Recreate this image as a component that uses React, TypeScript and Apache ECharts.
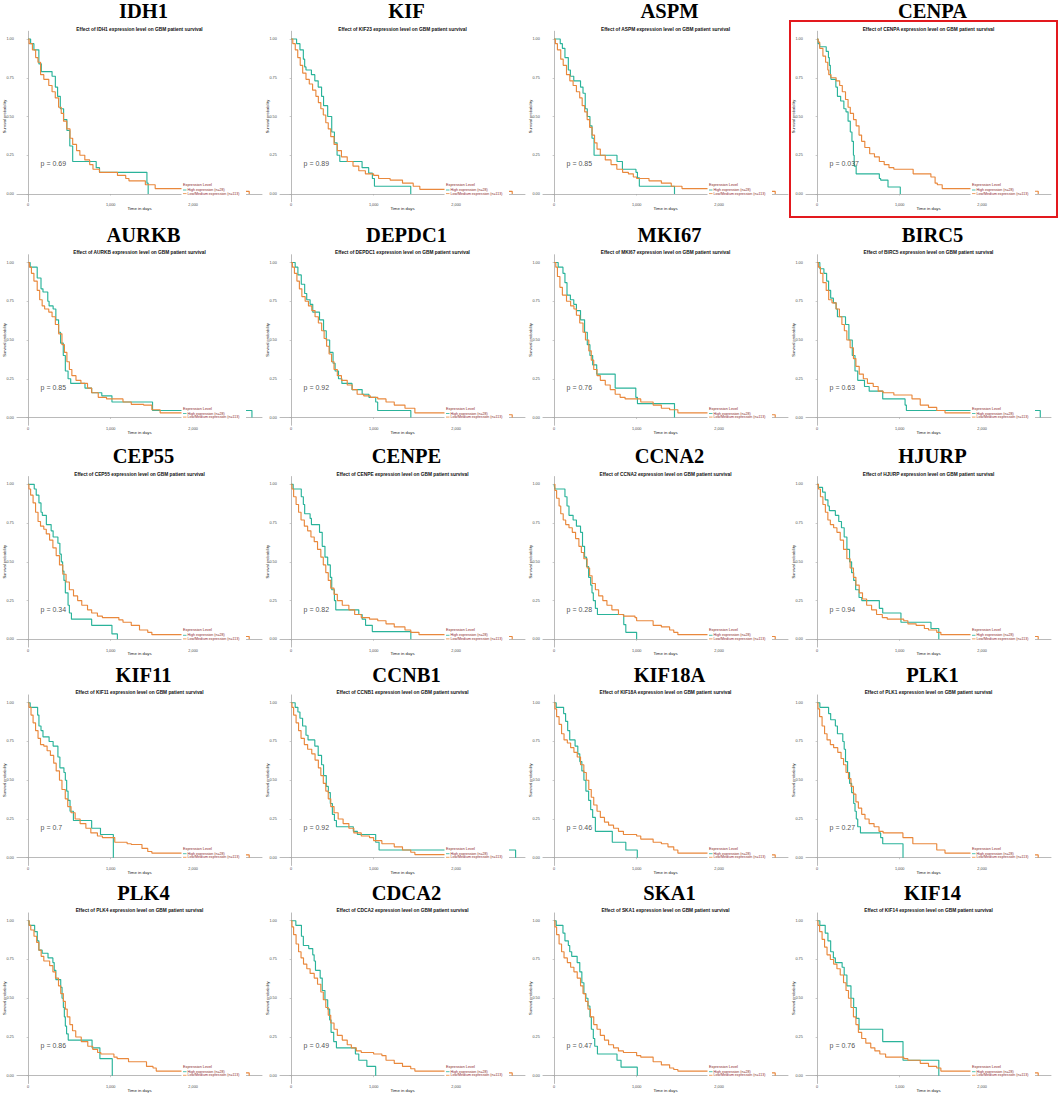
import React, { useEffect, useRef } from "react";
import * as echarts from "echarts";

// ---------- labels ----------
const genes = ["IDH1", "KIF", "ASPM", "CENPA", "AURKB", "DEPDC1", "MKI67", "BIRC5", "CEP55", "CENPE", "CCNA2", "HJURP", "KIF11", "CCNB1", "KIF18A", "PLK1", "PLK4", "CDCA2", "SKA1", "KIF14"];
const subtitleGenes = ["IDH1", "KIF23", "ASPM", "CENPA", "AURKB", "DEPDC1", "MKI67", "BIRC5", "CEP55", "CENPE", "CCNA2", "HJURP", "KIF11", "CCNB1", "KIF18A", "PLK1", "PLK4", "CDCA2", "SKA1", "KIF14"];
const pValues = ["0.69", "0.89", "0.85", "0.037", "0.85", "0.92", "0.76", "0.63", "0.34", "0.82", "0.28", "0.94", "0.7", "0.92", "0.46", "0.27", "0.86", "0.49", "0.47", "0.76"];
const legendLabels = ["Expression Level", "High expression (n=28)", "Low/Medium expression (n=113)"];
const xTicks = [0, 1000, 2000];
const yTicks = [0, 0.25, 0.5, 0.75, 1];
const highlighted = "CENPA";

// ---------- survival curves: [day, survival] ----------
const IDH1_high = [[0,1],[30,0.97],[70,0.93],[130,0.84],[160,0.79],[290,0.76],[330,0.69],[357,0.63],[390,0.55],[430,0.48],[470,0.41],[505,0.31],[540,0.21],[825,0.17],[865,0.14],[1440,0.07],[1455,0]];
const IDH1_low = [[0,1],[12,0.97],[52,0.93],[91,0.88],[119,0.85],[151,0.77],[190,0.74],[250,0.70],[290,0.66],[329,0.62],[369,0.56],[401,0.52],[429,0.47],[468,0.42],[508,0.36],[540,0.32],[587,0.28],[627,0.25],[687,0.22],[746,0.19],[786,0.16],[865,0.14],[1083,0.12],[1183,0.10],[1222,0.085],[1421,0.06],[1540,0.035],[2590,0.017],[2680,0]];

const KIF23_high = [[0,1],[66,0.97],[107,0.93],[148,0.87],[164,0.82],[180,0.80],[246,0.77],[287,0.73],[328,0.69],[369,0.63],[393,0.57],[443,0.50],[492,0.40],[525,0.33],[557,0.25],[590,0.21],[860,0.17],[940,0.135],[985,0.10],[1010,0.05],[1450,0]];
const KIF23_low = [[0,1],[20,0.97],[50,0.93],[80,0.88],[110,0.83],[140,0.78],[180,0.74],[220,0.71],[260,0.67],[300,0.63],[330,0.59],[360,0.55],[390,0.51],[420,0.46],[450,0.42],[480,0.37],[520,0.32],[560,0.28],[610,0.24],[680,0.21],[750,0.18],[820,0.15],[900,0.13],[1000,0.12],[1060,0.10],[1200,0.09],[1350,0.07],[1480,0.05],[1560,0.03],[2590,0.017],[2680,0]];

const ASPM_high = [[0,1],[74,0.97],[100,0.94],[131,0.88],[172,0.80],[197,0.76],[238,0.73],[320,0.69],[350,0.65],[377,0.55],[402,0.50],[434,0.44],[459,0.36],[484,0.25],[762,0.21],[828,0.16],[992,0.14],[1010,0.105],[1033,0.05],[1459,0]];
const ASPM_low = [[0,1],[15,0.97],[40,0.93],[80,0.87],[110,0.83],[150,0.77],[190,0.73],[230,0.70],[270,0.66],[310,0.62],[340,0.57],[370,0.53],[400,0.48],[430,0.43],[460,0.38],[490,0.33],[520,0.29],[560,0.25],[620,0.22],[690,0.19],[760,0.16],[830,0.14],[900,0.13],[960,0.11],[1000,0.10],[1150,0.085],[1300,0.07],[1420,0.05],[1550,0.035],[2590,0.017],[2680,0]];

const CENPA_high = [[0,1],[12,0.97],[31,0.95],[110,0.92],[137,0.88],[148,0.83],[160,0.78],[168,0.74],[227,0.69],[246,0.63],[285,0.60],[324,0.55],[350,0.53],[375,0.47],[402,0.40],[422,0.34],[440,0.25],[449,0.18],[473,0.13],[754,0.10],[770,0.09],[859,0.045],[1008,0]];
const CENPA_low = [[0,1],[12,0.98],[31,0.94],[70,0.89],[102,0.85],[129,0.80],[141,0.77],[168,0.75],[230,0.73],[273,0.70],[305,0.66],[344,0.61],[375,0.56],[402,0.52],[441,0.48],[473,0.44],[508,0.38],[539,0.34],[578,0.30],[637,0.26],[695,0.24],[754,0.21],[813,0.19],[871,0.17],[930,0.16],[1164,0.13],[1379,0.11],[1430,0.07],[1457,0.06],[1516,0.035],[2590,0.018],[2680,0]];

const AURKB_high = [[0,1],[25,0.97],[110,0.90],[156,0.83],[180,0.81],[238,0.75],[254,0.72],[303,0.70],[336,0.63],[369,0.55],[393,0.48],[426,0.40],[451,0.30],[484,0.25],[516,0.22],[689,0.19],[770,0.16],[893,0.14],[1016,0.10],[1508,0.045],[2713,0]];
const AURKB_low = [[0,1],[15,0.97],[40,0.93],[70,0.88],[110,0.82],[140,0.76],[170,0.72],[200,0.70],[250,0.68],[290,0.65],[330,0.60],[370,0.54],[410,0.47],[440,0.42],[470,0.36],[500,0.31],[530,0.27],[580,0.24],[640,0.22],[720,0.19],[770,0.16],[850,0.13],[950,0.12],[1150,0.10],[1250,0.085],[1400,0.08],[1500,0.05],[1600,0.03],[2000,0.03]];

const DEPDC1_high = [[0,1],[49,0.97],[82,0.92],[123,0.86],[164,0.80],[189,0.76],[230,0.73],[262,0.68],[344,0.63],[393,0.56],[426,0.50],[467,0.42],[508,0.35],[533,0.30],[574,0.25],[615,0.22],[738,0.18],[861,0.15],[943,0.13],[1025,0.10],[1049,0.045],[1451,0]];
const DEPDC1_low = [[0,1],[15,0.97],[40,0.93],[70,0.88],[100,0.83],[130,0.78],[170,0.75],[210,0.72],[250,0.69],[290,0.65],[330,0.61],[370,0.56],[400,0.51],[430,0.46],[460,0.41],[490,0.36],[520,0.31],[560,0.27],[610,0.24],[680,0.21],[740,0.18],[800,0.15],[880,0.14],[960,0.13],[1050,0.12],[1150,0.10],[1250,0.08],[1380,0.06],[1500,0.03],[2590,0.018],[2680,0]];

const MKI67_high = [[0,1],[49,0.97],[107,0.93],[131,0.87],[156,0.79],[197,0.76],[238,0.73],[270,0.69],[320,0.63],[369,0.55],[402,0.47],[434,0.40],[467,0.34],[516,0.28],[740,0.19],[990,0.13],[1010,0.09],[1459,0]];
const MKI67_low = [[0,1],[20,0.97],[40,0.91],[70,0.84],[100,0.79],[150,0.75],[200,0.72],[240,0.70],[270,0.66],[310,0.61],[350,0.55],[380,0.50],[420,0.43],[450,0.37],[480,0.31],[520,0.27],[560,0.24],[620,0.21],[680,0.18],[740,0.15],[800,0.13],[860,0.12],[1050,0.10],[1200,0.08],[1300,0.06],[1400,0.05],[1500,0.03],[2590,0.018],[2680,0]];

const BIRC5_high = [[0,1],[33,0.96],[82,0.93],[115,0.88],[139,0.82],[164,0.77],[197,0.74],[230,0.70],[246,0.65],[344,0.60],[385,0.50],[426,0.40],[459,0.30],[492,0.24],[574,0.20],[631,0.17],[795,0.12],[1066,0.08],[1082,0.045],[2705,0]];
const BIRC5_low = [[0,1],[15,0.97],[40,0.93],[70,0.87],[110,0.82],[140,0.76],[180,0.74],[230,0.70],[270,0.65],[300,0.60],[330,0.56],[360,0.50],[400,0.45],[440,0.38],[470,0.33],[510,0.28],[560,0.25],[610,0.22],[680,0.20],[740,0.17],[800,0.16],[930,0.145],[1150,0.12],[1250,0.08],[1350,0.065],[1450,0.045],[1550,0.03],[2000,0.03]];

const CEP55_high = [[0,1],[74,0.97],[98,0.93],[131,0.88],[156,0.82],[172,0.80],[221,0.74],[279,0.70],[303,0.66],[361,0.62],[385,0.55],[402,0.50],[418,0.44],[434,0.38],[451,0.30],[484,0.22],[500,0.17],[525,0.13],[770,0.09],[1016,0.035],[1082,0]];
const CEP55_low = [[0,1],[10,0.97],[30,0.93],[60,0.88],[90,0.82],[120,0.76],[150,0.73],[190,0.71],[220,0.68],[260,0.64],[300,0.59],[340,0.54],[380,0.48],[420,0.42],[460,0.37],[500,0.32],[550,0.28],[600,0.25],[650,0.22],[720,0.19],[770,0.17],[840,0.15],[900,0.14],[1100,0.125],[1150,0.11],[1250,0.09],[1350,0.06],[1450,0.045],[1500,0.03],[2590,0.018],[2680,0]];

const CENPE_high = [[0,1],[25,0.97],[123,0.92],[148,0.87],[164,0.81],[230,0.78],[246,0.74],[344,0.69],[377,0.60],[410,0.53],[443,0.48],[475,0.40],[492,0.32],[525,0.25],[541,0.19],[820,0.16],[861,0.13],[902,0.09],[984,0.05],[1451,0]];
const CENPE_low = [[0,1],[10,0.97],[30,0.92],[60,0.87],[90,0.82],[120,0.77],[160,0.73],[200,0.70],[240,0.66],[280,0.63],[320,0.58],[360,0.53],[390,0.48],[420,0.43],[450,0.38],[480,0.33],[520,0.29],[560,0.25],[620,0.22],[700,0.19],[770,0.16],[850,0.14],[950,0.13],[1050,0.12],[1150,0.10],[1250,0.08],[1380,0.06],[1450,0.045],[1550,0.03],[2590,0.018],[2680,0]];

const CCNA2_high = [[0,1],[8,0.97],[131,0.92],[156,0.86],[180,0.80],[230,0.77],[270,0.73],[320,0.69],[344,0.60],[369,0.53],[393,0.47],[418,0.40],[443,0.35],[459,0.30],[475,0.25],[500,0.20],[525,0.16],[844,0.095],[869,0.045],[1000,0]];
const CCNA2_low = [[0,1],[10,0.96],[30,0.91],[60,0.86],[80,0.81],[110,0.77],[140,0.74],[180,0.72],[220,0.69],[260,0.65],[300,0.60],[330,0.56],[360,0.52],[400,0.46],[430,0.41],[460,0.36],[500,0.32],[540,0.28],[590,0.25],[640,0.22],[700,0.19],[780,0.16],[840,0.15],[980,0.14],[1000,0.12],[1200,0.09],[1300,0.08],[1400,0.06],[1450,0.045],[1500,0.03],[2590,0.018],[2680,0]];

const HJURP_high = [[0,1],[16,0.98],[66,0.95],[98,0.90],[131,0.86],[148,0.83],[221,0.80],[262,0.76],[295,0.72],[328,0.66],[361,0.58],[393,0.50],[418,0.43],[443,0.38],[467,0.32],[508,0.27],[541,0.25],[754,0.20],[795,0.17],[1016,0.11],[1380,0.07],[1475,0]];
const HJURP_low = [[0,1],[15,0.97],[40,0.92],[70,0.87],[100,0.82],[130,0.77],[160,0.74],[200,0.72],[240,0.69],[280,0.64],[320,0.58],[360,0.52],[400,0.46],[440,0.40],[470,0.35],[510,0.30],[550,0.26],[600,0.22],[660,0.19],[720,0.16],[790,0.14],[850,0.13],[1050,0.12],[1100,0.10],[1200,0.09],[1300,0.07],[1350,0.06],[1450,0.045],[1500,0.03],[2590,0.018],[2680,0]];

const KIF11_high = [[0,1],[25,0.97],[115,0.92],[131,0.85],[156,0.82],[180,0.78],[254,0.75],[303,0.72],[361,0.65],[385,0.58],[434,0.55],[451,0.50],[467,0.43],[484,0.37],[508,0.30],[549,0.24],[770,0.19],[877,0.15],[1033,0]];
const KIF11_low = [[0,1],[10,0.97],[35,0.92],[60,0.87],[90,0.82],[120,0.77],[150,0.73],[190,0.72],[230,0.69],[270,0.66],[310,0.61],[340,0.56],[380,0.50],[410,0.44],[450,0.38],[480,0.33],[520,0.29],[570,0.25],[630,0.22],[700,0.19],[760,0.16],[840,0.14],[900,0.13],[1050,0.10],[1200,0.09],[1250,0.085],[1380,0.06],[1450,0.04],[1500,0.03],[2590,0.018],[2680,0]];

const CCNB1_high = [[0,1],[49,0.97],[82,0.94],[107,0.90],[139,0.85],[180,0.79],[205,0.76],[287,0.72],[328,0.66],[369,0.60],[393,0.53],[426,0.46],[451,0.42],[475,0.35],[500,0.28],[525,0.24],[549,0.20],[754,0.17],[803,0.15],[1025,0.10],[1066,0.05],[2721,0]];
const CCNB1_low = [[0,1],[10,0.97],[30,0.92],[60,0.87],[90,0.82],[120,0.77],[160,0.73],[200,0.70],[250,0.67],[290,0.63],[330,0.58],[360,0.53],[390,0.48],[420,0.43],[450,0.38],[480,0.33],[520,0.29],[570,0.25],[630,0.22],[700,0.19],[760,0.16],[850,0.14],[950,0.13],[1000,0.11],[1100,0.09],[1250,0.07],[1350,0.05],[1450,0.035],[1500,0.02],[2000,0.02]];

const KIF18A_high = [[0,1],[25,0.97],[115,0.93],[139,0.88],[164,0.82],[189,0.76],[254,0.72],[287,0.67],[311,0.62],[336,0.56],[361,0.50],[385,0.43],[418,0.37],[443,0.31],[467,0.26],[500,0.17],[705,0.10],[869,0.05],[1008,0]];
const KIF18A_low = [[0,1],[10,0.96],[30,0.91],[60,0.86],[90,0.80],[120,0.76],[160,0.74],[200,0.71],[240,0.68],[280,0.65],[320,0.60],[360,0.55],[390,0.50],[420,0.44],[450,0.39],[480,0.34],[520,0.30],[560,0.26],[610,0.23],[660,0.21],[720,0.19],[780,0.17],[840,0.15],[1000,0.14],[1050,0.12],[1200,0.10],[1300,0.09],[1380,0.07],[1450,0.05],[1500,0.03],[2590,0.018],[2680,0]];

const PLK1_high = [[0,1],[33,0.97],[139,0.93],[164,0.89],[221,0.85],[246,0.80],[311,0.75],[328,0.70],[344,0.62],[369,0.55],[393,0.48],[418,0.42],[443,0.35],[459,0.30],[475,0.25],[492,0.20],[525,0.16],[770,0.13],[795,0.09],[1041,0]];
const PLK1_low = [[0,1],[10,0.96],[30,0.91],[60,0.85],[90,0.80],[120,0.76],[160,0.73],[200,0.71],[250,0.68],[290,0.64],[320,0.60],[350,0.55],[380,0.51],[410,0.46],[440,0.41],[470,0.36],[500,0.32],[540,0.28],[580,0.25],[630,0.22],[690,0.20],[750,0.17],[800,0.16],[1040,0.13],[1160,0.09],[1450,0.05],[1550,0.03],[2590,0.018],[2680,0]];

const PLK4_high = [[0,1],[12,0.97],[79,0.93],[111,0.87],[130,0.81],[170,0.79],[241,0.76],[300,0.73],[316,0.68],[336,0.62],[395,0.57],[411,0.50],[427,0.44],[439,0.38],[451,0.32],[466,0.27],[486,0.23],[775,0.18],[870,0.11],[1020,0]];
const PLK4_low = [[0,1],[12,0.97],[32,0.94],[71,0.90],[103,0.86],[130,0.81],[158,0.77],[190,0.74],[261,0.71],[300,0.67],[332,0.63],[368,0.58],[395,0.53],[427,0.48],[451,0.43],[474,0.38],[506,0.33],[538,0.29],[577,0.25],[644,0.22],[723,0.19],[783,0.17],[842,0.15],[881,0.14],[1040,0.12],[1079,0.11],[1217,0.09],[1435,0.06],[1514,0.05],[1553,0.03],[2590,0.018],[2680,0]];

const CDCA2_high = [[0,1],[57,0.97],[125,0.90],[148,0.84],[213,0.82],[262,0.78],[279,0.74],[295,0.68],[352,0.63],[377,0.55],[410,0.49],[443,0.43],[467,0.36],[484,0.28],[516,0.22],[549,0.18],[779,0.14],[820,0.10],[918,0.06],[1025,0]];
const CDCA2_low = [[0,1],[10,0.96],[30,0.91],[60,0.85],[90,0.80],[120,0.76],[150,0.72],[190,0.69],[230,0.66],[280,0.63],[320,0.59],[360,0.54],[390,0.49],[420,0.44],[450,0.39],[480,0.34],[520,0.30],[560,0.26],[620,0.23],[680,0.20],[730,0.18],[790,0.16],[850,0.15],[1000,0.14],[1100,0.13],[1150,0.10],[1250,0.08],[1350,0.06],[1450,0.045],[1500,0.03],[2590,0.018],[2680,0]];

const SKA1_high = [[0,1],[25,0.97],[107,0.92],[131,0.87],[172,0.84],[189,0.80],[213,0.77],[279,0.73],[311,0.67],[336,0.60],[361,0.53],[385,0.50],[410,0.45],[434,0.38],[451,0.30],[475,0.24],[492,0.19],[525,0.14],[762,0.10],[811,0.055],[1008,0]];
const SKA1_low = [[0,1],[10,0.96],[30,0.91],[60,0.85],[90,0.80],[120,0.76],[160,0.73],[200,0.70],[240,0.67],[280,0.63],[320,0.58],[350,0.53],[380,0.48],[410,0.43],[440,0.38],[480,0.33],[520,0.30],[560,0.26],[610,0.23],[660,0.20],[720,0.18],[780,0.16],[840,0.15],[1000,0.13],[1050,0.12],[1200,0.09],[1300,0.07],[1400,0.05],[1450,0.04],[1500,0.03],[2590,0.018],[2680,0]];

const KIF14_high = [[0,1],[33,0.97],[98,0.92],[131,0.87],[164,0.80],[197,0.76],[221,0.73],[303,0.70],[328,0.65],[361,0.58],[410,0.50],[443,0.44],[475,0.37],[508,0.30],[795,0.22],[1041,0.10],[1475,0]];
const KIF14_low = [[0,1],[10,0.97],[30,0.93],[60,0.88],[90,0.83],[120,0.78],[160,0.75],[200,0.72],[240,0.69],[280,0.65],[320,0.60],[350,0.55],[380,0.50],[410,0.44],[440,0.38],[470,0.33],[500,0.28],[540,0.24],[590,0.21],[650,0.18],[700,0.16],[760,0.14],[830,0.12],[1050,0.11],[1100,0.10],[1250,0.08],[1350,0.06],[1450,0.05],[1500,0.03],[2590,0.018],[2680,0]];

const highCurves = [IDH1_high, KIF23_high, ASPM_high, CENPA_high, AURKB_high, DEPDC1_high, MKI67_high, BIRC5_high, CEP55_high, CENPE_high, CCNA2_high, HJURP_high, KIF11_high, CCNB1_high, KIF18A_high, PLK1_high, PLK4_high, CDCA2_high, SKA1_high, KIF14_high];
const lowCurves = [IDH1_low, KIF23_low, ASPM_low, CENPA_low, AURKB_low, DEPDC1_low, MKI67_low, BIRC5_low, CEP55_low, CENPE_low, CCNA2_low, HJURP_low, KIF11_low, CCNB1_low, KIF18A_low, PLK1_low, PLK4_low, CDCA2_low, SKA1_low, KIF14_low];

// annotation anchor (data coords) for the p value
const pAnchor = [145, 0.195];

// ---------- layout ----------
const W = 1059;
const H = 1094;
const COL_W = 263;
const ROW_Y1 = [39, 262.5, 484.3, 702.7, 920.7]; // pixel y of survival = 1.00
const PLOT_L = 17;
const PLOT_W = 245;
const UNIT = 155; // px per 1.0 survival
const TEAL = "#2ab39a";
const ORANGE = "#e9883c";
const AXIS_C = "#a8a8a8";
const LEG_C = "#8b1f1f";
const SANS = "'Liberation Sans', Arial, sans-serif";
const SERIF = "'Liberation Serif', 'Times New Roman', serif";

function txt(text: string, x: number, y: number, font: string, fill: string, align = "center", rotation = 0, z = 10) {
  return {
    type: "text",
    x,
    y,
    rotation,
    z,
    silent: true,
    style: {
      text,
      font,
      fill,
      align,
      textAlign: align,
      verticalAlign: "middle",
      textVerticalAlign: "middle",
    },
  };
}

function buildOption() {
  const grid: any[] = [];
  const xAxis: any[] = [];
  const yAxis: any[] = [];
  const series: any[] = [];
  const graphic: any[] = [];

  genes.forEach((g, i) => {
    const r = Math.floor(i / 4);
    const c = i % 4;
    const ox = c * COL_W;
    const y1 = ROW_Y1[r];
    const cx = ox + PLOT_L + PLOT_W / 2;

    grid.push({ left: ox + PLOT_L, top: y1 - 0.05 * UNIT, width: PLOT_W, height: 1.1 * UNIT, containLabel: false });

    xAxis.push({
      type: "value",
      gridIndex: i,
      min: -135,
      max: 2835,
      splitLine: { show: false },
      axisLine: { show: true, lineStyle: { color: AXIS_C, width: 0.8 } },
      axisTick: { show: true, length: 1.5, customValues: xTicks, lineStyle: { color: AXIS_C, width: 0.6 } },
      axisLabel: { show: true, customValues: xTicks, fontSize: 3.8, color: "#4d4d4d", margin: 1.6, fontFamily: SANS },
    });
    yAxis.push({
      type: "value",
      gridIndex: i,
      min: -0.05,
      max: 1.05,
      splitLine: { show: false },
      axisLine: { show: true, lineStyle: { color: AXIS_C, width: 0.8 } },
      axisTick: { show: true, length: 1.5, customValues: yTicks, lineStyle: { color: AXIS_C, width: 0.6 } },
      axisLabel: {
        show: true,
        customValues: yTicks,
        fontSize: 3.8,
        color: "#4d4d4d",
        margin: 3.2,
        fontFamily: SANS,
        formatter: (v: number) => v.toFixed(2),
      },
    });

    series.push({
      type: "line",
      name: "High expression",
      xAxisIndex: i,
      yAxisIndex: i,
      data: highCurves[i],
      step: "end",
      showSymbol: false,
      symbol: "none",
      silent: true,
      z: 2,
      lineStyle: { color: TEAL, width: 1.15 },
    });
    series.push({
      type: "line",
      name: "Low/Medium expression",
      xAxisIndex: i,
      yAxisIndex: i,
      data: lowCurves[i],
      step: "end",
      showSymbol: false,
      symbol: "none",
      silent: true,
      z: 3,
      lineStyle: { color: ORANGE, width: 1.15 },
    });
    series.push({
      type: "scatter",
      xAxisIndex: i,
      yAxisIndex: i,
      data: [pAnchor],
      symbolSize: 1,
      silent: true,
      itemStyle: { color: "rgba(0,0,0,0)" },
      label: {
        show: true,
        position: "right",
        distance: 0,
        formatter: "p = " + pValues[i],
        fontSize: 7,
        color: "#222",
        fontFamily: SANS,
      },
      z: 4,
    });

    // titles
    graphic.push(txt(g, cx + 4, y1 - 28, `bold 20.5px ${SERIF}`, "#000"));
    graphic.push(txt(`Effect of ${subtitleGenes[i]} expression level on GBM patient survival`, cx, y1 - 10, `bold 4.8px ${SANS}`, "#111"));
    // axis titles
    graphic.push(txt("Time in days", cx, y1 + 169.6, `4.3px ${SANS}`, "#222"));
    graphic.push(txt("Survival probability", ox + 4.2, y1 + 77.5, `4px ${SANS}`, "#222", "center", Math.PI / 2));

    // legend (white box over the curves)
    const lx = ox + 181.5;
    graphic.push({
      type: "rect",
      z: 50,
      silent: true,
      shape: { x: lx, y: y1 + 142, width: 64.5, height: 16 },
      style: { fill: "#ffffff" },
    });
    graphic.push(txt(legendLabels[0], lx + 1.5, y1 + 146, `3.8px ${SANS}`, LEG_C, "left", 0, 51));
    graphic.push({
      type: "line",
      z: 51,
      silent: true,
      shape: { x1: lx + 1.5, y1: y1 + 151, x2: lx + 5, y2: y1 + 151 },
      style: { stroke: TEAL, lineWidth: 0.8 },
    });
    graphic.push(txt(legendLabels[1], lx + 6, y1 + 151, `3.6px ${SANS}`, LEG_C, "left", 0, 51));
    graphic.push({
      type: "line",
      z: 51,
      silent: true,
      shape: { x1: lx + 1.5, y1: y1 + 154.6, x2: lx + 5, y2: y1 + 154.6 },
      style: { stroke: ORANGE, lineWidth: 0.8 },
    });
    graphic.push(txt(legendLabels[2], lx + 6, y1 + 154.6, `3.6px ${SANS}`, LEG_C, "left", 0, 51));

    if (g === highlighted) {
      graphic.push({
        type: "rect",
        z: 60,
        silent: true,
        shape: { x: ox + 1, y: y1 - 18, width: 267, height: 196 },
        style: { fill: "none", stroke: "#e3191e", lineWidth: 2 },
      });
    }
  });

  return {
    animation: false,
    backgroundColor: "#ffffff",
    grid,
    xAxis,
    yAxis,
    series,
    graphic: { elements: graphic },
  };
}

export default function App() {
  const ref = useRef<HTMLDivElement | null>(null);
  useEffect(() => {
    if (!ref.current) return;
    const chart = echarts.init(ref.current, undefined, { renderer: "svg" });
    chart.setOption(buildOption() as any);
    return () => {
      chart.dispose();
    };
  }, []);
  return (
    <div
      ref={ref}
      style={{ position: "absolute", left: 0, top: 0, width: W, height: H, background: "#fff" }}
    />
  );
}
